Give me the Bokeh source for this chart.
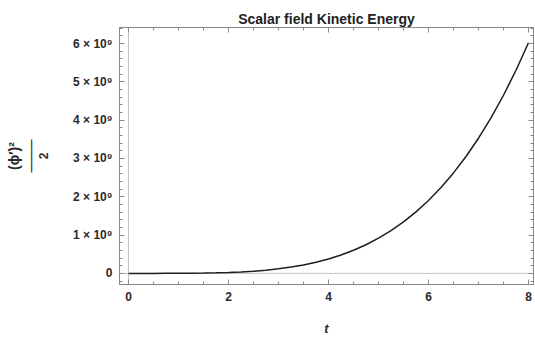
import numpy as np
from bokeh.plotting import figure
from bokeh.models import (Range1d, LinearAxis, FixedTicker, CustomJSTickFormatter, Span)
from bokeh.embed import file_html
from bokeh.resources import INLINE

# ---- data ----
t = [0.0, 0.25, 0.5, 0.75, 1.0, 1.25, 1.5, 1.75, 2.0, 2.25, 2.5, 2.75, 3.0,
     3.25, 3.5, 3.75, 4.0, 4.25, 4.5, 4.75, 5.0, 5.25, 5.5, 5.75, 6.0,
     6.25, 6.5, 6.75, 7.0, 7.25, 7.5, 7.75, 8.0]
kinetic = [0.0, 0.000006e9, 0.00009e9, 0.0005e9, 0.0015e9, 0.0036e9, 0.0074e9,
           0.014e9, 0.024e9, 0.038e9, 0.057e9, 0.084e9, 0.119e9, 0.164e9,
           0.221e9, 0.291e9, 0.376e9, 0.48e9, 0.603e9, 0.748e9, 0.919e9,
           1.117e9, 1.345e9, 1.607e9, 1.905e9, 2.243e9, 2.624e9, 3.052e9,
           3.529e9, 4.061e9, 4.651e9, 5.303e9, 6.021e9]

xticks = [0, 2, 4, 6, 8]
xtick_labels = ["0", "2", "4", "6", "8"]
yticks = [0, 1e9, 2e9, 3e9, 4e9, 5e9, 6e9]
ytick_labels = ["0", "1 × 10⁹", "2 × 10⁹", "3 × 10⁹", "4 × 10⁹", "5 × 10⁹", "6 × 10⁹"]

title = "Scalar field Kinetic Energy"
xlabel = "t"
ylabel_num = "(ϕ′)²"
ylabel_den = "2"

# ---- layout ----
W, H = 535, 338
XMIN, XMAX = -0.18, 8.1
YMIN, YMAX = -0.29e9, 6.42e9
BL, BR, BT, BB = 119, 2, 27, 54

FONT = "Liberation Sans"
FRAME = "#8a8a8a"
TXT = "#2a2a2a"

p = figure(width=W, height=H, output_backend="svg", toolbar_location=None,
           x_range=Range1d(XMIN, XMAX), y_range=Range1d(YMIN, YMAX),
           min_border_left=BL, min_border_right=BR, min_border_top=BT,
           min_border_bottom=BB, background_fill_color="white",
           border_fill_color="white", outline_line_color=FRAME,
           title=title, x_axis_label=xlabel, y_axis_label=ylabel_den)

p.title.align = "center"
p.title.text_font = FONT
p.title.text_font_size = "14px"
p.title.text_font_style = "bold"
p.title.text_color = "#222222"
p.title.standoff = 2
p.title.offset = 0

p.xgrid.visible = False
p.ygrid.visible = False

xt = FixedTicker(ticks=xticks, minor_ticks=list(np.arange(0, 8.01, 0.5)))
yt = FixedTicker(ticks=yticks, minor_ticks=list(np.arange(-0.2e9, 6.41e9, 0.2e9)))

yfmt = CustomJSTickFormatter(args=dict(vals=yticks, labs=ytick_labels), code="""
    for (let i = 0; i < vals.length; i++) {
        if (Math.abs(tick - vals[i]) < 1) return labs[i];
    }
    return '';
""")
xfmt = CustomJSTickFormatter(args=dict(vals=xticks, labs=xtick_labels), code="""
    for (let i = 0; i < vals.length; i++) {
        if (Math.abs(tick - vals[i]) < 1e-6) return labs[i];
    }
    return '';
""")
blank = CustomJSTickFormatter(code="return '';")


def style_axis(ax, labels=True):
    ax.axis_line_color = FRAME
    ax.major_tick_line_color = FRAME
    ax.minor_tick_line_color = FRAME
    ax.major_tick_in = 5
    ax.major_tick_out = 0
    ax.minor_tick_in = 3
    ax.minor_tick_out = 0
    ax.major_label_text_font = FONT
    ax.major_label_text_font_style = "bold"
    ax.major_label_text_font_size = "12px" if labels else "1px"
    ax.major_label_text_color = TXT
    ax.major_label_standoff = 7 if labels else 0


xa = p.xaxis[0]
xa.ticker = xt
xa.formatter = xfmt
style_axis(xa)
xa.axis_label_text_font = FONT
xa.axis_label_text_font_style = "bold italic"
xa.axis_label_text_font_size = "13px"
xa.axis_label_text_color = TXT
xa.axis_label_standoff = 17

ya = p.yaxis[0]
ya.ticker = yt
ya.formatter = yfmt
style_axis(ya)
ya.axis_label_text_font = FONT
ya.axis_label_text_font_style = "bold"
ya.axis_label_text_font_size = "12px"
ya.axis_label_text_color = TXT
ya.axis_label_standoff = 22

top = LinearAxis(ticker=xt, formatter=blank)
style_axis(top, labels=False)
p.add_layout(top, "above")
right = LinearAxis(ticker=yt, formatter=blank)
style_axis(right, labels=False)
p.add_layout(right, "right")

# fraction bar and numerator of the y label, as further label-only axes
for txt, size in (("———", "11px"), (ylabel_num, "14px")):
    ax = LinearAxis(ticker=FixedTicker(ticks=[]), axis_label=txt,
                    axis_line_color=None, major_tick_out=0, minor_tick_out=0,
                    major_label_standoff=0, axis_label_standoff=0)
    ax.axis_label_text_font = FONT
    ax.axis_label_text_font_style = "bold"
    ax.axis_label_text_font_size = size
    ax.axis_label_text_color = TXT
    p.add_layout(ax, "left")

# zero axis lines
p.add_layout(Span(location=0, dimension="width", line_color="#c4c4c4",
                  line_width=1, level="underlay"))
p.add_layout(Span(location=0, dimension="height", line_color="#c4c4c4",
                  line_width=1, level="underlay"))

p.line(t, kinetic, line_color="#1e1e1e", line_width=1.5)

open("out.html", "w").write(file_html(p, INLINE))
